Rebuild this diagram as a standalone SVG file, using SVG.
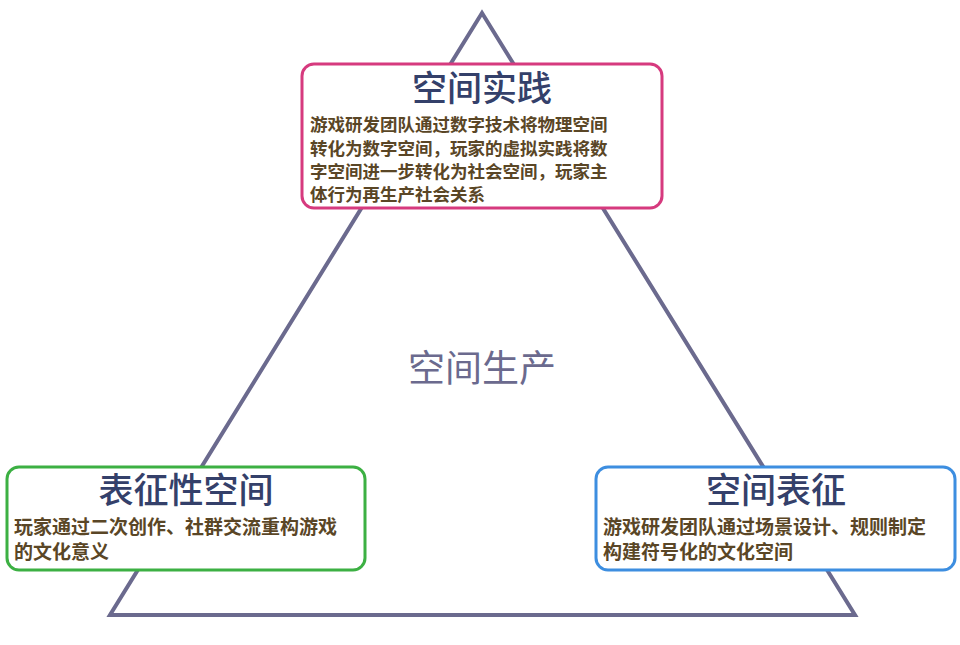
<svg xmlns="http://www.w3.org/2000/svg" width="960" height="645" viewBox="0 0 960 645">
<style>
.box{fill:#fff;stroke-width:3}
.t{font-family:"Noto Sans CJK SC",sans-serif;font-size:35px;font-weight:500;fill:#34406a;text-anchor:middle}
.b{font-family:"Noto Sans CJK SC",sans-serif;font-weight:bold;fill:#5a4626}
</style>
<rect width="960" height="645" fill="#fff"/>
<g id="connectors"><polygon points="482,13 110,615 855,615" fill="none" stroke="#6b6a8e" stroke-width="4" stroke-linejoin="miter"/></g>
<g id="center"><text x="482" y="382" font-family="Noto Sans CJK SC,sans-serif" font-size="37" fill="#6b6a8e" text-anchor="middle">空间生产</text></g>
<g id="top">
<rect class="box" x="302" y="64" width="360" height="144" rx="12" stroke="#d63a7e"/>
<text class="t" x="482" y="101">空间实践</text>
<text class="b" font-size="17.5"><tspan x="310" y="131">游戏研发团队通过数字技术将物理空间</tspan><tspan x="310" y="155">转化为数字空间，玩家的虚拟实践将数</tspan><tspan x="310" y="178">字空间进一步转化为社会空间，玩家主</tspan><tspan x="310" y="201">体行为再生产社会关系</tspan></text>
</g>
<g id="left">
<rect class="box" x="7" y="467" width="358" height="103" rx="12" stroke="#3cb043"/>
<text class="t" x="186" y="503">表征性空间</text>
<text class="b" font-size="19"><tspan x="14" y="534">玩家通过二次创作、社群交流重构游戏</tspan><tspan x="14" y="559">的文化意义</tspan></text>
</g>
<g id="right">
<rect class="box" x="596" y="467" width="359" height="103" rx="12" stroke="#3d8ee0"/>
<text class="t" x="776" y="503">空间表征</text>
<text class="b" font-size="19"><tspan x="603" y="534">游戏研发团队通过场景设计、规则制定</tspan><tspan x="603" y="559">构建符号化的文化空间</tspan></text>
</g>
</svg>
